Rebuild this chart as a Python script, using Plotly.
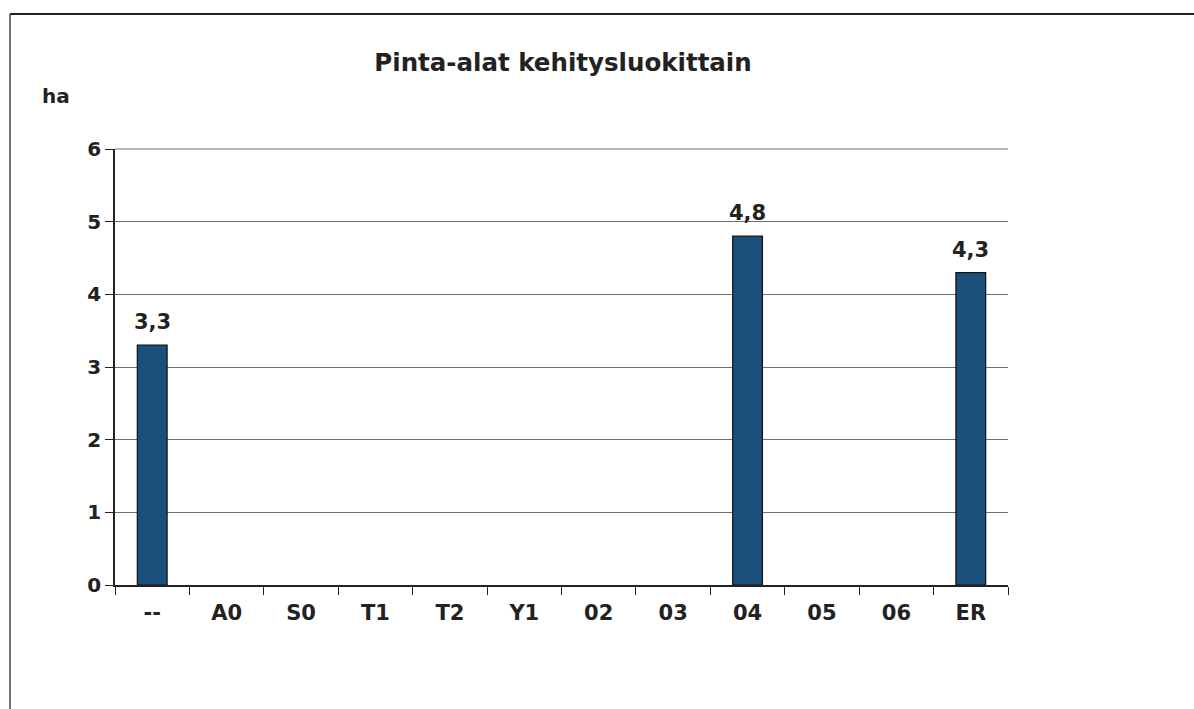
import plotly.graph_objects as go

categories = ["--", "A0", "S0", "T1", "T2", "Y1", "02", "03", "04", "05", "06", "ER"]
values = [3.3, 0, 0, 0, 0, 0, 0, 0, 4.8, 0, 0, 4.3]
labels = [f"{v:.1f}".replace(".", ",") if v > 0 else "" for v in values]

W, H = 1194, 709
L, R, T, B = 115, 1008, 149, 585
pw, ph = R - L, B - T

def px(x):
    return (x - L) / pw

def py(y):
    return (B - y) / ph

FONT = "DejaVu Sans"
TXT = "#222222"

fig = go.Figure(go.Bar(
    x=categories, y=values,
    marker=dict(color="#1b4f7c",
                line=dict(color="#111111", width=[1.2 if v > 0 else 0 for v in values])),
    width=0.4, hoverinfo="x+y",
))

# data labels above the bars (category axis positions are the category indices)
for i, (v, t) in enumerate(zip(values, labels)):
    if t:
        fig.add_annotation(x=i, y=v, text=f"<b>{t}</b>", showarrow=False,
                           xanchor="center", yanchor="bottom", yshift=9,
                           font=dict(family=FONT, size=21, color=TXT))

fig.update_layout(
    width=W, height=H,
    margin=dict(l=L, r=W - R, t=T, b=H - B),
    paper_bgcolor="white", plot_bgcolor="white",
    showlegend=False,
    title=dict(text="<b>Pinta-alat kehitysluokittain</b>", x=563 / W, xanchor="center",
               y=1 - 62 / H, yanchor="middle",
               font=dict(family=FONT, size=24.5, color=TXT)),
    font=dict(family=FONT, color=TXT),
)

fig.update_xaxes(
    type="category", showline=True, linecolor=TXT, linewidth=1.5,
    ticks="outside", tickson="boundaries", ticklen=8, tickcolor=TXT,
    tickfont=dict(family=FONT, size=21, color=TXT, weight="bold"),
    ticklabelstandoff=8,
    showgrid=False, zeroline=False,
)
fig.update_yaxes(
    range=[0, 6], dtick=1, showline=True, linecolor=TXT, linewidth=1.5,
    ticks="outside", ticklen=8, tickcolor=TXT,
    tickfont=dict(family=FONT, size=20, color=TXT, weight="bold"),
    showgrid=True, gridcolor="#6e6e6e", gridwidth=1, zeroline=False,
)

# top gridline at the upper edge of the value range
fig.add_shape(type="line", xref="x domain", yref="y domain",
              x0=0, x1=1, y0=1, y1=1, line=dict(color="#6e6e6e", width=1))

fig.add_annotation(text="<b>ha</b>", xref="paper", yref="paper",
                   x=px(56), y=py(96), xanchor="center", yanchor="middle",
                   showarrow=False, font=dict(family=FONT, size=20, color=TXT))

# outer frame (top and left borders of the scanned chart area)
fig.add_shape(type="line", xref="paper", yref="paper",
              x0=px(10), x1=px(1200), y0=py(14), y1=py(14),
              line=dict(color=TXT, width=2))
fig.add_shape(type="line", xref="paper", yref="paper",
              x0=px(10), x1=px(10), y0=py(14), y1=py(715),
              line=dict(color="#444444", width=1.5))

fig.write_html("out.html", config={"displayModeBar": False},
               post_script="document.body.style.margin='0px';")
